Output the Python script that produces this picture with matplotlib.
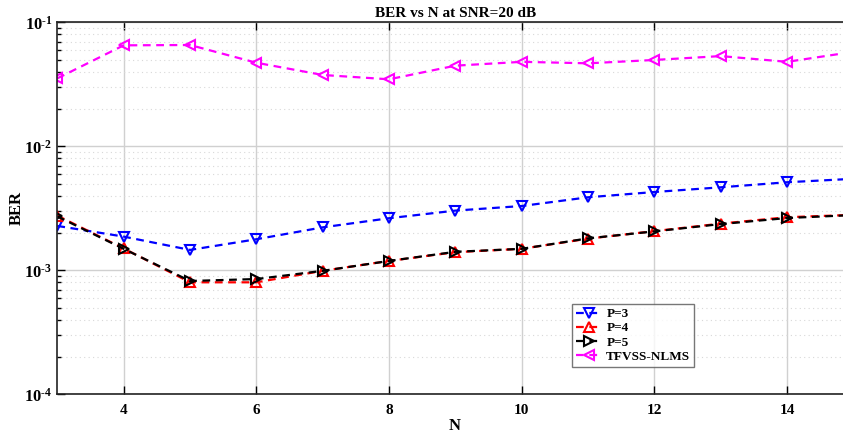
import matplotlib
matplotlib.use("Agg")
import matplotlib.pyplot as plt
import numpy as np
from matplotlib.ticker import LogLocator, FixedLocator, NullFormatter

plt.rcParams['font.family'] = ['Liberation Serif', 'DejaVu Serif']
plt.rcParams['font.weight'] = 'bold'
plt.rcParams['mathtext.fontset'] = 'custom'
plt.rcParams['mathtext.rm'] = 'Liberation Serif:bold'
plt.rcParams['mathtext.bf'] = 'Liberation Serif:bold'
plt.rcParams['mathtext.it'] = 'Liberation Serif:bold'

N = [3, 4, 5, 6, 7, 8, 9, 10, 11, 12, 13, 14, 15]
ber_p3 = [0.00228, 0.00187, 0.00146, 0.00178, 0.00222, 0.00263, 0.00303,
          0.00330, 0.00388, 0.00428, 0.00467, 0.00513, 0.00547]
ber_p4 = [0.00276, 0.00150, 0.00080, 0.00080, 0.00099, 0.00119, 0.00140,
          0.00149, 0.00180, 0.00207, 0.00238, 0.00268, 0.00280]
ber_p5 = [0.00272, 0.00149, 0.00082, 0.00085, 0.00099, 0.00119, 0.00141,
          0.00149, 0.00181, 0.00206, 0.00236, 0.00264, 0.00279]
ber_tf = [0.0353, 0.0652, 0.0656, 0.0472, 0.0376, 0.0347, 0.0447,
          0.0480, 0.0467, 0.0497, 0.0534, 0.0480, 0.0578]
labels = ['P=3', 'P=4', 'P=5', 'TFVSS-NLMS']
xticks = [4, 6, 8, 10, 12, 14]
yticks = [1e-4, 1e-3, 1e-2, 1e-1]
ytick_exps = ['4', '3', '2', '1']

W, H = 843, 436
fig = plt.figure(figsize=(W/100, H/100), dpi=100)
left, top, bottom = 57.3, 22.3, 394.3
xpx15 = left + 12*66.35
axw, axh = xpx15 - left, bottom - top
ax = fig.add_axes([left/W, 1 - bottom/H, axw/W, axh/H])

lw = 1.6
ms = 6.5
dash = (0, (3.5, 2.5))
ax.plot(N, ber_p3, ls=dash, color='blue', marker='v', mfc='none', mec='blue', mew=1.5, ms=ms, lw=lw, label=labels[0])
ax.plot(N, ber_p4, ls=dash, color='red', marker='^', mfc='none', mec='red', mew=1.5, ms=ms, lw=lw, label=labels[1])
ax.plot(N, ber_p5, ls=dash, color='black', marker='>', mfc='none', mec='black', mew=1.5, ms=ms, lw=lw, label=labels[2])
ax.plot(N, ber_tf, ls=dash, color='magenta', marker='<', mfc='none', mec='magenta', mew=1.5, ms=ms, lw=lw, label=labels[3])

ax.set_yscale('log')
ax.set_ylim(1e-4, 1e-1)
ax.set_xlim(3, 15)
ax.set_xticks(xticks)
ax.set_xticklabels([str(t) for t in xticks], fontsize=11, fontweight='bold')
ax.yaxis.set_major_locator(FixedLocator(yticks))
ax.set_yticklabels([r'$10^{\text{-}%s}$' % e for e in ytick_exps], fontsize=12)
ax.yaxis.set_minor_locator(LogLocator(base=10, subs=np.arange(2, 10)))
ax.yaxis.set_minor_formatter(NullFormatter())

ax.grid(True, which='major', color='#d0d0d0', lw=1.0, ls='-')
ax.grid(True, which='minor', axis='y', color='#d8d8d8', lw=0.8, ls=(0, (1, 3)))
ax.set_axisbelow(True)
ax.tick_params(which='both', direction='in', top=True, right=False, width=1.0)
ax.tick_params(which='major', length=6)
ax.tick_params(which='minor', length=3)
ax.tick_params(axis='x', pad=7)
for s in ['left', 'top', 'bottom']:
    ax.spines[s].set_linewidth(1.2)
    ax.spines[s].set_color('#222222')
ax.spines['right'].set_visible(False)

ax.set_title('BER vs N at SNR=20 dB', fontsize=11, fontweight='bold', pad=4)
ax.set_xlabel('N', fontsize=12, fontweight='bold')
ax.xaxis.set_label_coords((455 - left)/axw, -(426 - bottom)/axh)
ax.xaxis.label.set_va('center')
ax.set_ylabel('BER', fontsize=12, fontweight='bold')
ax.yaxis.set_label_coords(-(left - 17)/axw, 0.5)
ax.yaxis.label.set_va('center')

leg = ax.legend(loc='upper left', bbox_to_anchor=((572 - left)/axw, (bottom - 304)/axh),
                prop={'weight': 'bold', 'size': 9.5}, frameon=True, fancybox=False,
                handlelength=2.0, handletextpad=0.3, borderpad=0.3, labelspacing=0.15, borderaxespad=0)
leg.get_frame().set_edgecolor('#555555')
leg.get_frame().set_linewidth(1.0)

fig.savefig('out.png', dpi=100)
